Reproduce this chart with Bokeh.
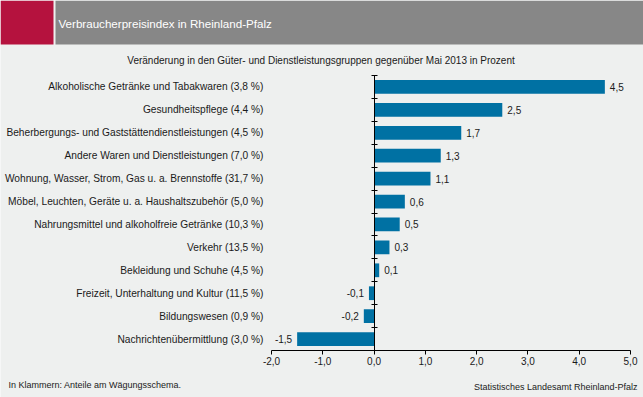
from bokeh.plotting import figure
from bokeh.models import (Range1d, FixedTicker, Label, BoxAnnotation, ColumnDataSource,
                          LinearAxis, CustomJSTickFormatter)
from bokeh.core.properties import value
from bokeh.embed import file_html
from bokeh.resources import INLINE

# ---- data -------------------------------------------------------------
categories = [
    "Alkoholische Getränke und Tabakwaren (3,8 %)",
    "Gesundheitspflege (4,4 %)",
    "Beherbergungs- und Gaststättendienstleistungen (4,5 %)",
    "Andere Waren und Dienstleistungen (7,0 %)",
    "Wohnung, Wasser, Strom, Gas u. a. Brennstoffe (31,7 %)",
    "Möbel, Leuchten, Geräte u. a. Haushaltszubehör (5,0 %)",
    "Nahrungsmittel und alkoholfreie Getränke (10,3 %)",
    "Verkehr (13,5 %)",
    "Bekleidung und Schuhe (4,5 %)",
    "Freizeit, Unterhaltung und Kultur (11,5 %)",
    "Bildungswesen (0,9 %)",
    "Nachrichtenübermittlung (3,0 %)",
]
values = [4.5, 2.5, 1.7, 1.3, 1.1, 0.6, 0.5, 0.3, 0.1, -0.1, -0.2, -1.5]
x_ticks = [-2, -1, 0, 1, 2, 3, 4, 5]
x_tick_labels = ["-2,0", "-1,0", "0,0", "1,0", "2,0", "3,0", "4,0", "5,0"]

header_title = "Verbraucherpreisindex in Rheinland-Pfalz"
subtitle = "Veränderung in den Güter- und Dienstleistungsgruppen gegenüber Mai 2013 in Prozent"
footnote = "In Klammern: Anteile am Wägungsschema."
source_note = "Statistisches Landesamt Rheinland-Pfalz"

# ---- style / layout ---------------------------------------------------
FONT = "Liberation Sans"
BG = "#EEF0EF"
BAR = "#0071A3"
GRAY = "#878787"
RED = "#B5123E"
TXT = "#1A1A1A"

W, H = 643, 397
PL, PR, PT, PB = 271, 630, 75, 350      # plotting area (px) for the value scale

n = len(categories)
pos = [n - 1 - i for i in range(n)]
boundaries = [k - 0.5 for k in range(n + 1)]
xmin, xmax = x_ticks[0], x_ticks[-1]
ylo, yhi = -0.5, n - 0.5

kx = (PR - PL) / (xmax - xmin)
ky = (PB - PT) / (yhi - ylo)


def dx(px):
    return xmin + (px - PL) / kx


def dy(py):
    return yhi - (py - PT) / ky


p = figure(width=W, height=H, output_backend="svg", toolbar_location=None,
           x_range=Range1d(dx(0), dx(W)), y_range=Range1d(dy(H), dy(0)),
           min_border=0, background_fill_color=BG, border_fill_color=BG,
           outline_line_color=None)
p.grid.visible = False

# category labels axis
ya = p.yaxis[0]
ya.fixed_location = xmin
ya.bounds = (ylo, yhi)
ya.ticker = FixedTicker(ticks=pos)
ya.major_label_overrides = {pp: c for pp, c in zip(pos, categories)}
ya.axis_line_color = None
ya.major_tick_line_color = None
ya.minor_tick_line_color = None
ya.major_tick_out = 0
ya.major_tick_in = 0
ya.major_label_standoff = 8
ya.major_label_text_font = FONT
ya.major_label_text_font_size = "10.2px"
ya.major_label_text_color = TXT

# zero line with category separators
yz = LinearAxis(fixed_location=0, bounds=(ylo, yhi),
                ticker=FixedTicker(ticks=boundaries),
                formatter=CustomJSTickFormatter(code="return ''"),
                axis_line_color="black", major_tick_line_color="black",
                minor_tick_line_color=None, major_tick_in=3, major_tick_out=3,
                major_label_text_font_size="0px")
p.add_layout(yz, "left")

# value axis
xa = p.xaxis[0]
xa.fixed_location = ylo
xa.bounds = (xmin, xmax)
xa.ticker = FixedTicker(ticks=x_ticks)
xa.major_label_overrides = {t: l for t, l in zip(x_ticks, x_tick_labels)}
xa.axis_line_color = "black"
xa.major_tick_line_color = "black"
xa.minor_tick_line_color = None
xa.major_tick_out = 4
xa.major_tick_in = 0
xa.major_label_standoff = 2
xa.major_label_text_font = FONT
xa.major_label_text_font_size = "10px"
xa.major_label_text_color = TXT

src = ColumnDataSource(dict(
    y=pos, v=values,
    lab=[f"{v:.1f}".replace(".", ",") for v in values],
    align=["left" if v >= 0 else "right" for v in values],
    xoff=[5 if v >= 0 else -5 for v in values],
))
p.hbar(y="y", left=0, right="v", height=0.6, source=src,
       fill_color=BAR, line_color=None)
p.text(x="v", y="y", text="lab", x_offset="xoff", text_align="align",
       text_baseline="middle", source=src, text_font=value(FONT),
       text_font_size=value("10px"), text_color=TXT)


# ---- header and notes (screen px, origin bottom-left of frame) --------
def box(x0, x1, y0, y1, color):
    return BoxAnnotation(left=x0, right=x1, top=H - y0, bottom=H - y1,
                         left_units="screen", right_units="screen",
                         top_units="screen", bottom_units="screen",
                         fill_color=color, fill_alpha=1, line_color=None,
                         level="underlay")


def lab(text, fx, fy, size, color, align="left"):
    return Label(x=fx, y=H - fy, x_units="screen", y_units="screen",
                 text=text, text_font=FONT, text_font_size=size,
                 text_color=color, text_align=align, text_baseline="middle",
                 level="overlay")


p.add_layout(box(0, 53, 0, 44, RED))
p.add_layout(box(55, W, 0, 44, GRAY))
p.add_layout(lab(header_title, 58, 23, "11.6px", "white"))
p.add_layout(lab(subtitle, 320.5, 60, "10px", TXT, "center"))
p.add_layout(lab(footnote, 8, 384, "9px", TXT))
p.add_layout(lab(source_note, 637, 386, "9px", TXT, "right"))

open("out.html", "w").write(file_html(p, INLINE))
